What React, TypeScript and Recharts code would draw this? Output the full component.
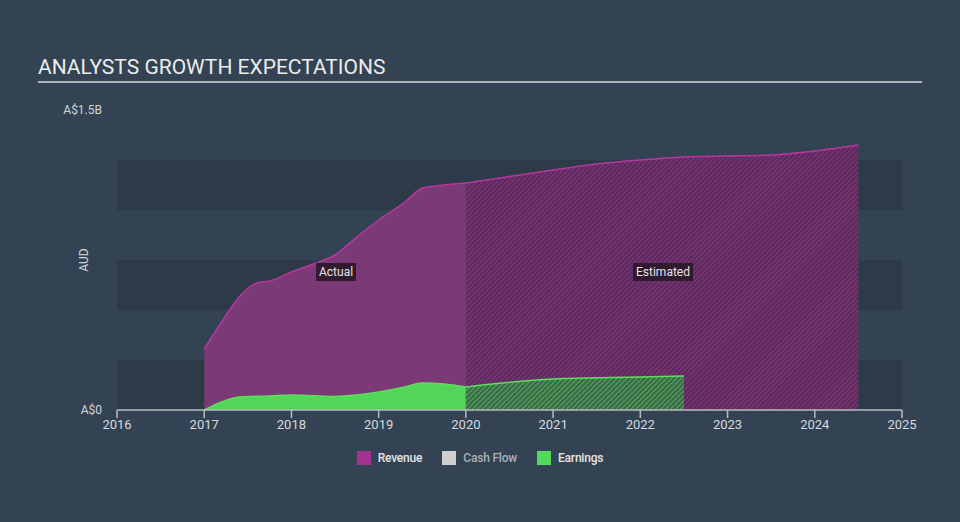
import { Area, AreaChart, ReferenceArea, XAxis, YAxis } from 'recharts'

const YEAR_TICKS = [2016, 2017, 2018, 2019, 2020, 2021, 2022, 2023, 2024, 2025]

// revenue, A$ billions
const revenueActualX = [2017, 2017.2, 2017.4, 2017.6, 2017.75, 2018, 2018.25, 2018.5, 2018.75, 2019, 2019.3, 2019.5, 2019.65, 2020]
const revenueActual = [0.305, 0.44, 0.565, 0.635, 0.645, 0.69, 0.73, 0.775, 0.865, 0.95, 1.04, 1.11, 1.12, 1.135]
const revenueEstX = [2020, 2020.5, 2021, 2021.5, 2022, 2022.5, 2023, 2023.5, 2024, 2024.5]
const revenueEst = [1.135, 1.167, 1.2, 1.23, 1.25, 1.265, 1.27, 1.275, 1.295, 1.325]

// earnings, A$ billions
const earningsActualX = [2017, 2017.2, 2017.4, 2017.75, 2018, 2018.5, 2019, 2019.3, 2019.5, 2019.75, 2020]
const earningsActual = [0, 0.04, 0.065, 0.07, 0.075, 0.068, 0.09, 0.115, 0.135, 0.13, 0.115]
const earningsEstX = [2020, 2021, 2022, 2022.5]
const earningsEst = [0.115, 0.155, 0.165, 0.17]

const BANDS = [
  [0, 0.25],
  [0.5, 0.75],
  [1.0, 1.25],
]

const LEGEND = [
  { name: 'Revenue', color: '#a2338f', text: '#e6e6e6' },
  { name: 'Cash Flow', color: '#cfcfcf', text: '#a9b0b8' },
  { name: 'Earnings', color: '#53d95a', text: '#e6e6e6' },
]

type Row = { x: number; revA?: number; revE?: number; earnA?: number; earnE?: number }

function buildRows(): Row[] {
  const map = new Map<number, Row>()
  const put = (xs: number[], vs: number[], key: keyof Row) => {
    xs.forEach((x, i) => {
      const row = map.get(x) ?? { x }
      ;(row as any)[key] = vs[i]
      map.set(x, row)
    })
  }
  put(revenueActualX, revenueActual, 'revA')
  put(revenueEstX, revenueEst, 'revE')
  put(earningsActualX, earningsActual, 'earnA')
  put(earningsEstX, earningsEst, 'earnE')
  return [...map.values()].sort((a, b) => a.x - b.x)
}

const rows = buildRows()

const BG = '#334353'
const BAND = '#2d3a47'
const FONT = 'Roboto, sans-serif'

const tagStyle: React.CSSProperties = {
  position: 'absolute',
  top: 263,
  height: 18,
  lineHeight: '18px',
  padding: '0 3px',
  background: 'rgba(38, 22, 38, 0.85)',
  color: '#e4e4e4',
  fontSize: 12,
  fontFamily: FONT,
}

export default function App() {
  return (
    <div
      style={{
        position: 'fixed',
        left: 0,
        top: 0,
        width: 960,
        height: 522,
        background: BG,
        fontFamily: FONT,
        overflow: 'hidden',
      }}
    >
      <div style={{ position: 'absolute', left: 38, top: 55, fontSize: 21, color: '#ececec', lineHeight: '24px' }}>
        ANALYSTS GROWTH EXPECTATIONS
      </div>
      <div style={{ position: 'absolute', left: 38, top: 81, width: 884, height: 1.5, background: '#aab2ba' }} />

      <AreaChart width={960} height={522} data={rows} margin={{ top: 110, right: 58, bottom: 82, left: 0 }}>
        <defs>
          <pattern id="hatchRev" patternUnits="userSpaceOnUse" width="3.5" height="3.5" patternTransform="rotate(45)">
            <rect width="3.5" height="3.5" fill="#5c2d5c" />
            <line x1="0" y1="0" x2="0" y2="3.5" stroke="#96358d" strokeWidth="1.4" />
          </pattern>
          <pattern id="hatchEarn" patternUnits="userSpaceOnUse" width="3.5" height="3.5" patternTransform="rotate(45)">
            <rect width="3.5" height="3.5" fill="#3f6a4b" />
            <line x1="0" y1="0" x2="0" y2="3.5" stroke="#52cf58" strokeWidth="1.3" />
          </pattern>
        </defs>

        {BANDS.map(([a, b]) => (
          <ReferenceArea key={a} y1={a} y2={b} fill={BAND} fillOpacity={1} stroke="none" ifOverflow="visible" />
        ))}

        <XAxis
          dataKey="x"
          type="number"
          domain={[2016, 2025]}
          ticks={YEAR_TICKS}
          interval={0}
          height={30}
          axisLine={{ stroke: '#b4bcc4', strokeWidth: 1.5 }}
          tickLine={{ stroke: '#b4bcc4', strokeWidth: 1.5 }}
          tickSize={8}
          tickMargin={2}
          tick={{ fill: '#d6dade', fontSize: 13, fontFamily: FONT }}
        />
        <YAxis
          type="number"
          domain={[0, 1.5]}
          ticks={[0, 1.5]}
          width={117}
          axisLine={false}
          tickLine={false}
          tickSize={0}
          tickMargin={15}
          tick={{ fill: '#d2d6da', fontSize: 12, fontFamily: FONT }}
          tickFormatter={(v: number) => (v === 0 ? 'A$0' : `A$${v}B`)}
        />

        <Area
          type="monotone"
          dataKey="revA"
          connectNulls
          stroke="#b6379f"
          strokeWidth={1.5}
          fill="#7b3a75"
          fillOpacity={1}
          dot={false}
          activeDot={false}
          isAnimationActive={false}
        />
        <Area
          type="monotone"
          dataKey="revE"
          connectNulls
          stroke="#b6379f"
          strokeWidth={1.5}
          fill="url(#hatchRev)"
          fillOpacity={1}
          dot={false}
          activeDot={false}
          isAnimationActive={false}
        />
        <Area
          type="monotone"
          dataKey="earnA"
          connectNulls
          stroke="#5be05c"
          strokeWidth={1.5}
          fill="#51d658"
          fillOpacity={1}
          dot={false}
          activeDot={false}
          isAnimationActive={false}
        />
        <Area
          type="monotone"
          dataKey="earnE"
          connectNulls
          stroke="#5be05c"
          strokeWidth={1.5}
          fill="url(#hatchEarn)"
          fillOpacity={1}
          dot={false}
          activeDot={false}
          isAnimationActive={false}
        />
      </AreaChart>

      <div
        style={{
          position: 'absolute',
          left: 84,
          top: 260,
          transform: 'translate(-50%, -50%) rotate(-90deg)',
          fontSize: 12,
          color: '#d2d6da',
        }}
      >
        AUD
      </div>

      <div style={{ ...tagStyle, left: 316 }}>Actual</div>
      <div style={{ ...tagStyle, left: 633 }}>Estimated</div>

      <div
        style={{
          position: 'absolute',
          left: 0,
          top: 451,
          width: 960,
          display: 'flex',
          justifyContent: 'center',
          gap: 20,
          fontSize: 12,
          letterSpacing: -0.2,
        }}
      >
        {LEGEND.map((item) => (
          <div key={item.name} style={{ display: 'flex', alignItems: 'center', gap: 7 }}>
            <span style={{ display: 'inline-block', width: 14, height: 14, background: item.color }} />
            <span style={{ color: item.text, fontWeight: 500 }}>{item.name}</span>
          </div>
        ))}
      </div>
    </div>
  )
}
